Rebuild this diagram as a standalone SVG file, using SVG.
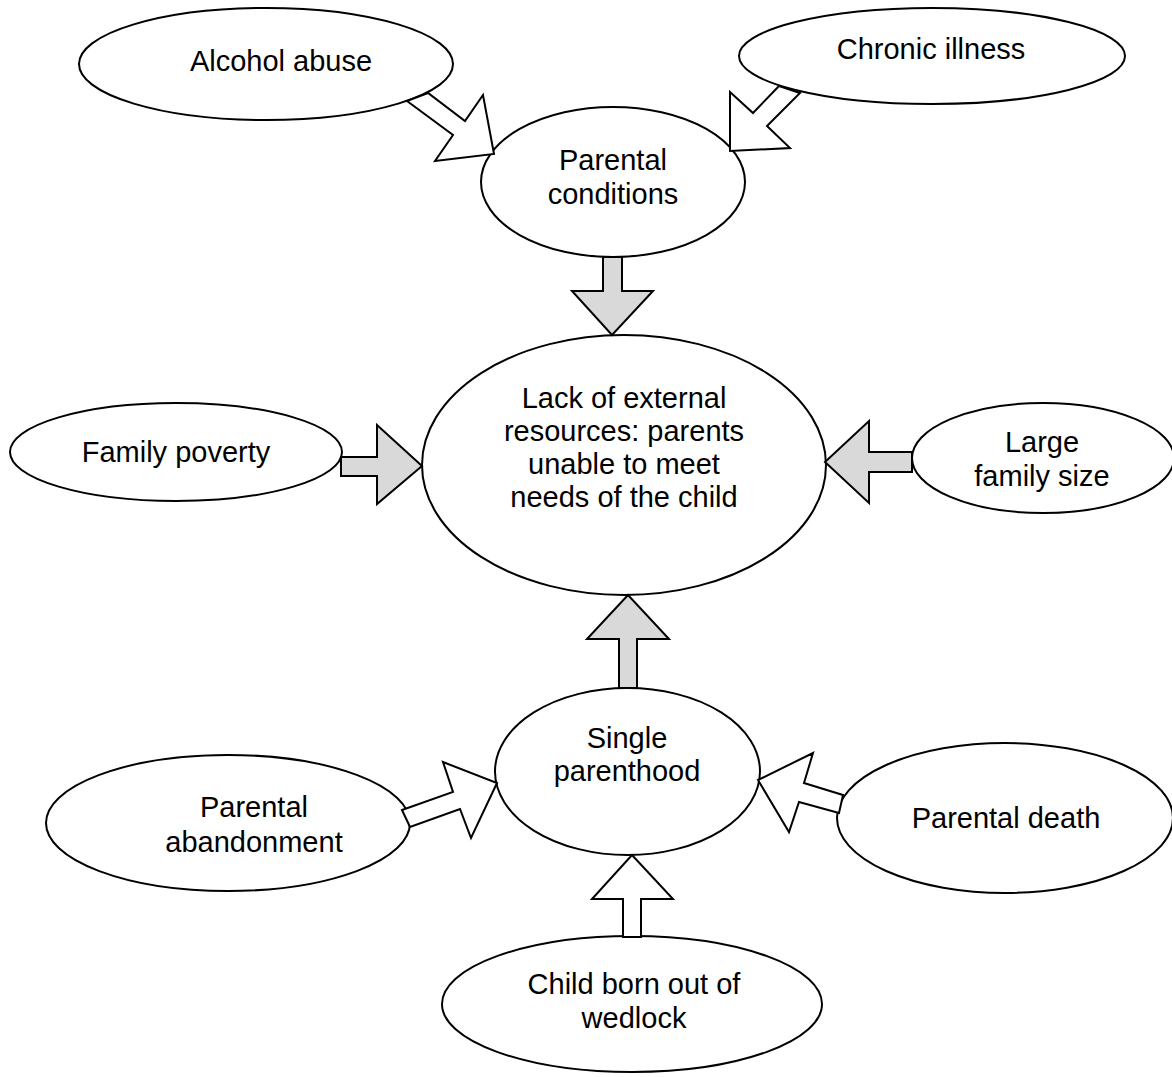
<svg xmlns="http://www.w3.org/2000/svg" width="1172" height="1077" viewBox="0 0 1172 1077">
<style>
.n{fill:#fff;stroke:#000;stroke-width:2}
.t{font-family:"Liberation Sans",Arial,sans-serif;font-size:29px;fill:#000;text-anchor:middle}
.g{fill:#d9d9d9;stroke:#000;stroke-width:2;stroke-linejoin:miter}
.w{fill:#fff;stroke:#000;stroke-width:2;stroke-linejoin:miter}
</style>
<rect width="1172" height="1077" fill="#fff"/>
<g id="alcohol"><ellipse class="n" cx="266" cy="64" rx="187" ry="56"/><text class="t" x="281" y="71">Alcohol abuse</text></g>
<g id="chronic"><ellipse class="n" cx="932" cy="56" rx="193" ry="48"/><text class="t" x="931" y="59">Chronic illness</text></g>
<g id="parental-conditions"><ellipse class="n" cx="613" cy="182" rx="132" ry="75"/><text class="t" x="613" y="170">Parental</text><text class="t" x="613" y="204">conditions</text></g>
<g id="lack"><ellipse class="n" cx="624" cy="465" rx="202" ry="130"/><text class="t" x="624" y="408">Lack of external</text><text class="t" x="624" y="441">resources: parents</text><text class="t" x="624" y="474">unable to meet</text><text class="t" x="624" y="507">needs of the child</text></g>
<g id="poverty"><ellipse class="n" cx="176" cy="452" rx="166" ry="49"/><text class="t" x="176" y="462">Family poverty</text></g>
<g id="large"><ellipse class="n" cx="1043" cy="458" rx="131" ry="55"/><text class="t" x="1042" y="452">Large</text><text class="t" x="1042" y="486">family size</text></g>
<g id="single"><ellipse class="n" cx="627.5" cy="771.5" rx="132.5" ry="83.5"/><text class="t" x="627" y="748">Single</text><text class="t" x="627" y="781">parenthood</text></g>
<g id="abandonment"><ellipse class="n" cx="228" cy="823" rx="182" ry="68"/><text class="t" x="254" y="817">Parental</text><text class="t" x="254" y="852">abandonment</text></g>
<g id="death"><ellipse class="n" cx="1005" cy="818" rx="168" ry="75"/><text class="t" x="1006" y="828">Parental death</text></g>
<g id="wedlock"><ellipse class="n" cx="632" cy="1004" rx="190" ry="68"/><text class="t" x="634" y="994">Child born out of</text><text class="t" x="634" y="1028">wedlock</text></g>
<g id="connectors">
<polygon class="w" points="407,101 453,135 435,161 494,154 483,95 465,121 428,93"/>
<polygon class="w" points="779,86 753,113 730,92 730,151 790,148 767,126 800,93"/>
<polygon class="g" points="603,257 622,257 622,291 653,291 612,335 572,291 603,291"/>
<polygon class="g" points="341,457 377,457 377,425 422,466 377,504 377,476 341,476"/>
<polygon class="g" points="912,452 869,452 869,421 825,462 869,503 869,472 912,472"/>
<polygon class="g" points="619,688 619,639 587,639 628,595 669,639 637,639 637,688"/>
<polygon class="w" points="402,810 453,792 443,762 497,783 471,838 460,809 410,827"/>
<polygon class="w" points="758,780 813,753 804,783 843,795 839,813 799,802 789,832"/>
<polygon class="w" points="623,937 623,899 592,899 632,855 673,899 641,899 641,937"/>
</g>
</svg>
